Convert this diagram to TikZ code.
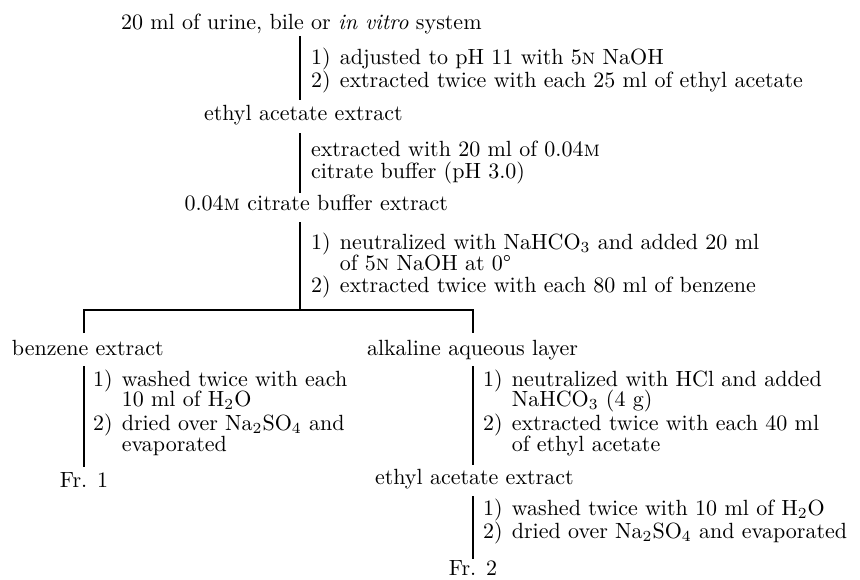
\documentclass[tikz,border=0pt]{standalone}
\usepackage{graphicx}
\newcommand{\tx}[1]{\scalebox{2.2}{#1}}
\newcommand{\ii}{\hspace{0.42em}}
\newcommand{\hang}{\hphantom{1)}\ii}
\begin{document}
\begin{tikzpicture}[x=1pt,y=-1pt,
  txt/.style={anchor=base west,inner sep=0pt,outer sep=0pt,font=\fontsize{10}{12}\selectfont},
  ctr/.style={anchor=base,inner sep=0pt,outer sep=0pt,font=\fontsize{10}{12}\selectfont},
  rule/.style={line width=1.1pt,black}]
\useasboundingbox (0,0) rectangle (860,579);
% texts
\node[txt] (t0) at (121,29) {\tx{20 ml of urine, bile or \textit{in vitro} system}};
\node[txt] (s1a) at (311,64) {\tx{1)\ii adjusted to pH 11 with 5\textsc{n} NaOH}};
\node[txt] (s1b) at (311,87) {\tx{2)\ii extracted twice with each 25 ml of ethyl acetate}};
\node[txt] (t1) at (204,120) {\tx{ethyl acetate extract}};
\node[txt] (s2a) at (311,156) {\tx{extracted with 20 ml of 0.04\textsc{m}}};
\node[txt] (s2b) at (311,178) {\tx{citrate buffer (pH 3.0)}};
\node[txt,anchor=base east] (t2) at (448,210) {\tx{0.04\textsc{m} citrate buffer extract}};
\node[txt] (s3a) at (311,249) {\tx{1)\ii neutralized with NaHCO$_3$ and added 20 ml}};
\node[txt] (s3b) at (311,270) {\tx{\hang of 5\textsc{n} NaOH at 0\textdegree}};
\node[txt] (s3c) at (311,292) {\tx{2)\ii extracted twice with each 80 ml of benzene}};
\node[txt] (b) at (12,355) {\tx{benzene extract}};
\node[txt] (al) at (367,355) {\tx{alkaline aqueous layer}};
\node[txt] (s4a) at (93,386) {\tx{1)\ii washed twice with each}};
\node[txt] (s4b) at (93,406) {\tx{\hang 10 ml of H$_2$O}};
\node[txt] (s4c) at (93,430) {\tx{2)\ii dried over Na$_2$SO$_4$ and}};
\node[txt] (s4d) at (93,451) {\tx{\hang evaporated}};
\node[ctr] (f1) at (84,487) {\tx{Fr. 1}};
\node[txt] (s5a) at (483,386) {\tx{1)\ii neutralized with HCl and added}};
\node[txt] (s5b) at (483,406) {\tx{\hang NaHCO$_3$ (4 g)}};
\node[txt] (s5c) at (483,430) {\tx{2)\ii extracted twice with each 40 ml}};
\node[txt] (s5d) at (483,451) {\tx{\hang of ethyl acetate}};
\node[txt] (t3) at (375,484) {\tx{ethyl acetate extract}};
\node[txt] (s6a) at (483,515) {\tx{1)\ii washed twice with 10 ml of H$_2$O}};
\node[txt] (s6b) at (483,538) {\tx{2)\ii dried over Na$_2$SO$_4$ and evaporated}};
\node[ctr] (f2) at (473,575) {\tx{Fr. 2}};
% rule end points
\coordinate (l1t) at (300,36); \coordinate (l1b) at (300,100);
\coordinate (l2t) at (300,133); \coordinate (l2b) at (300,193);
\coordinate (l3t) at (300,222); \coordinate (l3b) at (300,310);
\coordinate (hl) at (84,310); \coordinate (hr) at (473,310);
\coordinate (hlb) at (84,333); \coordinate (hrb) at (473,333);
\coordinate (l4t) at (84,366); \coordinate (l4b) at (84,467);
\coordinate (l5t) at (473,366); \coordinate (l5b) at (473,465);
\coordinate (l6t) at (473,496); \coordinate (l6b) at (473,559);
\draw[rule] (l1t) -- (l1b);
\draw[rule] (l2t) -- (l2b);
\draw[rule] (l3t) -- (l3b);
\draw[rule] (hlb) -- (hl) -- (hr) -- (hrb);
\draw[rule] (l4t) -- (l4b);
\draw[rule] (l5t) -- (l5b);
\draw[rule] (l6t) -- (l6b);
\end{tikzpicture}
\end{document}
